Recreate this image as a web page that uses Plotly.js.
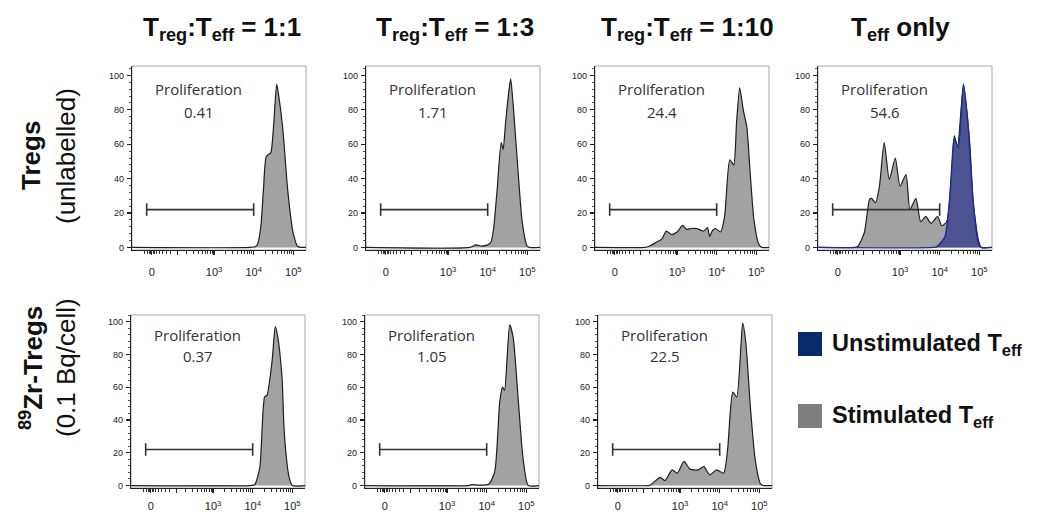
<!DOCTYPE html>
<html><head><meta charset="utf-8">
<script src="https://cdn.plot.ly/plotly-3.0.1.min.js"></script>
<style>html,body{margin:0;padding:0;background:#fff}#chart{width:1038px;height:515px}</style>
</head><body><div id="chart"></div>
<script>
// ---- data (x in decades of fluorescence on a biexponential axis; "0" sits at 1.43) ----
const columnTitles = ['T<sub>reg</sub>:T<sub>eff</sub> = 1:1','T<sub>reg</sub>:T<sub>eff</sub> = 1:3','T<sub>reg</sub>:T<sub>eff</sub> = 1:10','T<sub>eff</sub> only'];
const rowMain = ['<b>Tregs</b>','<b><sup>89</sup>Zr-Tregs</b>'];
const rowSub = ['(unlabelled)','(0.1 Bq/cell)'];
const proliferation = ['0.41','1.71','24.4','54.6','0.37','1.05','22.5'];
const legendNames = ['Unstimulated T<sub>eff</sub>','Stimulated T<sub>eff</sub>'];
const xTickVals = [1.43, 2.08, 3, 4, 5];
const xTickText = ['0', '', '10<sup>3</sup>', '10<sup>4</sup>', '10<sup>5</sup>'];
const yTickVals = [0, 20, 40, 60, 80, 100];
const gateX = [1.30, 4.0];
const gateY = [22, 22];

const p1X = [0.93, 3.9, 4.05, 4.1, 4.18, 4.25, 4.32, 4.43, 4.5, 4.58, 4.62, 4.73, 4.86, 4.99, 5.11, 5.2, 5.32];
const p1Y = [0, 0, 0.5, 2, 12, 35, 53, 55, 70, 95, 90, 70, 33, 9, 0.5, 0, 0];
const p2X = [0.93, 3.55, 3.7, 3.85, 4.0, 4.08, 4.15, 4.24, 4.34, 4.39, 4.45, 4.52, 4.58, 4.65, 4.78, 4.87, 4.99, 5.05, 5.32];
const p2Y = [0, 0, 1.5, 0.8, 1.5, 3, 11, 34, 61, 57, 72, 88, 98, 81, 40, 15, 1, 0, 0];
const p3X = [0.93, 2.2, 2.28, 2.48, 2.62, 2.73, 2.86, 3.0, 3.14, 3.24, 3.35, 3.49, 3.6, 3.67, 3.77, 3.82, 3.9, 3.97, 4.1, 4.2, 4.33, 4.43, 4.5, 4.58, 4.67, 4.76, 4.84, 4.94, 5.06, 5.14, 5.32];
const p3Y = [0, 0, 0.5, 3, 5, 9.5, 7.5, 9, 12.8, 10.5, 11, 11, 10, 9.5, 11.5, 6.5, 10, 11, 9, 18, 51, 48, 72, 93, 80, 70, 45, 16, 2, 0, 0];
const p4StimX = [0.93, 1.85, 1.93, 2.1, 2.23, 2.28, 2.38, 2.48, 2.6, 2.73, 2.88, 3.0, 3.15, 3.25, 3.4, 3.52, 3.65, 3.78, 3.95, 4.05, 4.18, 4.3, 4.37, 4.45, 4.6, 4.75, 4.85, 4.98, 5.05, 5.32];
const p4StimY = [0, 0, 0.5, 8.7, 28, 28.5, 26, 35.6, 61, 39.5, 52, 35.6, 42.4, 22, 28.5, 15, 18, 14, 18, 12.6, 15, 42, 65, 58, 94, 63, 25, 4, 0, 0];
const p4UnstimX = [0.93, 3.85, 3.93, 4.13, 4.25, 4.35, 4.38, 4.47, 4.6, 4.72, 4.85, 4.98, 5.05, 5.32];
const p4UnstimY = [0, 0, 0.5, 6, 28, 61, 63, 58, 95, 70, 25, 2, 0, 0];
const p5X = [0.93, 3.95, 4.05, 4.18, 4.3, 4.36, 4.49, 4.57, 4.63, 4.74, 4.8, 4.92, 5.0, 5.32];
const p5Y = [0, 0, 0.5, 11, 54, 55, 76, 97, 91, 66, 31, 5, 0, 0];
const p6X = [0.93, 3.55, 3.62, 3.8, 4.05, 4.2, 4.33, 4.4, 4.45, 4.58, 4.67, 4.8, 4.92, 5.05, 5.32];
const p6Y = [0, 0, 0.5, 0.3, 0.8, 8, 51, 60, 58, 98, 90, 51, 16, 0, 0];
const p7X = [0.93, 2.2, 2.25, 2.5, 2.62, 2.8, 2.93, 3.1, 3.25, 3.45, 3.6, 3.75, 3.92, 4.1, 4.2, 4.33, 4.43, 4.58, 4.66, 4.78, 4.9, 5.03, 5.1, 5.32];
const p7Y = [0, 0, 0.3, 5, 3, 9.6, 7.5, 14.7, 10, 9.5, 11.5, 6.5, 9.5, 7.5, 22, 57, 54, 99, 87, 46, 15, 1, 0, 0];

// ---- layout geometry (pixels) ----
const W = 1038, H = 515;
const panels = [
  {l:132, t:66, b:250, yr:[-1.5,105.5], so:8},
  {l:366, t:66, b:250, yr:[-1.5,105.5], so:8},
  {l:595, t:66, b:250, yr:[-1.5,105.5], so:8},
  {l:818, t:66, b:250, yr:[-1.5,105.5], so:8},
  {l:131, t:315, b:488, yr:[-1.5,104], so:4},
  {l:365, t:315, b:488, yr:[-1.5,104], so:4},
  {l:598, t:315, b:488, yr:[-1.5,104], so:4}
];
const PW = 174;
const curves = [[p1X,p1Y],[p2X,p2Y],[p3X,p3Y],[p4StimX,p4StimY],[p5X,p5Y],[p6X,p6Y],[p7X,p7Y]];

const minorX = [1.25,1.31,1.36,1.39,1.47,1.5,1.55,1.62,1.7,1.8,1.9];
for (let n = 2; n <= 4; n++) for (let k = 2; k <= 9; k++) { const v = Math.log10(k*Math.pow(10,n)); if (v > 2.15) minorX.push(v); }

const GRAY_FILL = '#a2a2a2', LINE = '#1e1e1e';
const traces = [], annotations = [], shapes = [];
const layout = {width:W, height:H, margin:{l:0,r:0,t:0,b:0}, paper_bgcolor:'#fff', plot_bgcolor:'#fff', showlegend:false,
  font:{family:'Liberation Sans, Arial, sans-serif', color:'#111'}};

panels.forEach((p, i) => {
  const n = i + 1, sx = n === 1 ? '' : String(n);
  const xa = 'x' + sx, ya = 'y' + sx;
  layout['xaxis' + sx] = {domain:[p.l/W, (p.l+PW)/W], anchor:ya, range:[0.93,5.32], showgrid:false, zeroline:false,
    showline:true, linecolor:'#222', linewidth:1.2, ticks:'outside', ticklen:4, tickwidth:1.2, tickcolor:'#222',
    tickmode:'array', tickvals:xTickVals, ticktext:xTickText, ticklabelstandoff:p.so,
    tickfont:{size:11, color:'#222', family:'Liberation Sans, Arial'},
    minor:{tickmode:'array', tickvals:minorX, ticks:'outside', ticklen:2.5, tickwidth:1, tickcolor:'#333'}, fixedrange:true};
  layout['yaxis' + sx] = {domain:[1 - p.b/H, 1 - p.t/H], anchor:xa, range:p.yr, showgrid:false, zeroline:false,
    showline:true, linecolor:'#222', linewidth:1.2, ticks:'outside', ticklen:4, tickwidth:1.2, tickcolor:'#222',
    tickmode:'array', tickvals:yTickVals, ticklabelstandoff:1,
    tickfont:{size:9, color:'#222', family:'Liberation Sans, Arial'},
    minor:{dtick:4, ticks:'outside', ticklen:2, tickwidth:1, tickcolor:'#555'}, fixedrange:true};
  shapes.push({type:'rect', xref:xa + ' domain', yref:ya + ' domain', x0:0, x1:1, y0:0, y1:1, line:{color:'#a8a8a8', width:1}, layer:'below'});
  const c = curves[i];
  traces.push({type:'scatter', x:c[0], y:c[1], xaxis:xa, yaxis:ya, mode:'lines', fill:'tozeroy', fillcolor:GRAY_FILL,
    line:{color:LINE, width:1.2, shape:'spline', smoothing:0.6}, hoverinfo:'skip'});
  if (i === 3) {
    traces.push({type:'scatter', x:p4UnstimX, y:p4UnstimY, xaxis:xa, yaxis:ya, mode:'lines', fill:'tozeroy', fillcolor:'#4d5290',
      line:{color:'#1c2a96', width:1.4, shape:'spline', smoothing:0.6}, hoverinfo:'skip'});
  }
  traces.push({type:'scatter', x:gateX, y:gateY, xaxis:xa, yaxis:ya, mode:'lines+markers',
    line:{color:'#333', width:1.6}, marker:{symbol:'line-ns-open', size:9, line:{color:'#333', width:1.6}}, hoverinfo:'skip'});
  annotations.push({xref:xa, yref:ya, x:2.62, y:92, text:'Proliferation', showarrow:false,
    font:{family:'Open Sans, Liberation Sans, Arial', size:15, color:'#333'}});
  annotations.push({xref:xa, yref:ya, x:2.62, y:79, text:proliferation[i], showarrow:false,
    font:{family:'Open Sans, Liberation Sans, Arial', size:15, color:'#333'}});
});

const titleCx = [222, 455, 687, 900];
columnTitles.forEach((t, i) => annotations.push({xref:'paper', yref:'paper', x:titleCx[i]/W, y:1 - 28/H, xanchor:'center', yanchor:'middle',
  text:'<b>' + t + '</b>', showarrow:false, font:{family:'Liberation Sans, Arial', size:26, color:'#111'}}));
const rowCy = [156, 368];
rowMain.forEach((t, i) => {
  annotations.push({xref:'paper', yref:'paper', x:31/W, y:1 - rowCy[i]/H, xanchor:'center', yanchor:'middle', textangle:-90,
    text:t, showarrow:false, font:{family:'Liberation Sans, Arial', size:26, color:'#111'}});
  annotations.push({xref:'paper', yref:'paper', x:66/W, y:1 - rowCy[i]/H, xanchor:'center', yanchor:'middle', textangle:-90,
    text:rowSub[i], showarrow:false, font:{family:'Liberation Sans, Arial', size:26, color:'#111'}});
});
const legColors = ['#0b2a6a', '#7f7f7f'];
const legCy = [344, 416];
legendNames.forEach((t, i) => {
  shapes.push({type:'rect', xref:'paper', yref:'paper', x0:798/W, x1:822/W, y0:1 - (legCy[i]+12)/H, y1:1 - (legCy[i]-12)/H,
    fillcolor:legColors[i], line:{width:0}});
  annotations.push({xref:'paper', yref:'paper', x:830/W, y:1 - legCy[i]/H, xanchor:'left', yanchor:'middle',
    text:'<b>' + t + '</b>', showarrow:false, font:{family:'Liberation Sans, Arial', size:23.5, color:'#111'}});
});
layout.annotations = annotations;
layout.shapes = shapes;
Plotly.newPlot('chart', traces, layout, {staticPlot:true, displayModeBar:false});
</script>
</body></html>
